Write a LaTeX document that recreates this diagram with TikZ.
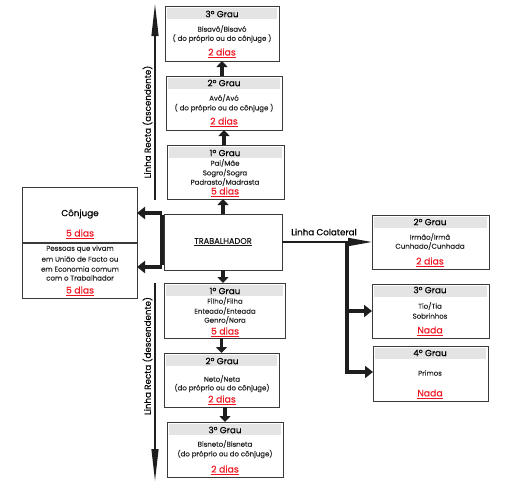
\documentclass[tikz,border=0pt]{standalone}
\usepackage{fontspec}
\setmainfont{Poppins}[FakeBold=0.35]
\usetikzlibrary{arrows.meta}
\definecolor{bord}{HTML}{3A3A3A}
\definecolor{hdr}{HTML}{E4E4E4}
\definecolor{redt}{HTML}{EE1520}
\definecolor{arr}{HTML}{1E1E1E}
\newcommand\mybox[5]{%
  \node[boxst, minimum width={(#4-#2)*1pt}, minimum height={(#5-#3)*1pt}] (#1) at ({(#2+#4)/2},{(#3+#5)/2}) {};}
\newcommand\myhdr[1]{%
  \fill[hdr] ([xshift=2pt,yshift=-2pt]#1.north west) rectangle ([xshift=-2pt,yshift=-13pt]#1.north east);}
\begin{document}
\begin{tikzpicture}[x=1pt,y=-1pt,
  boxst/.style={draw=bord, line width=0.9pt, inner sep=0pt, outer sep=0pt},
  hd/.style={font=\fontsize{8.8}{9}\selectfont, text=black, inner sep=0pt},
  tt/.style={font=\fontsize{7}{7}\selectfont, text=black!85, inner sep=0pt},
  rd/.style={font=\fontsize{9.3}{9}\selectfont, text=redt, inner sep=0pt},
  thk/.style={draw=arr, line width=3.6pt, -{Triangle[length=6pt,width=11pt]}},
  thkh/.style={draw=arr, line width=3.6pt, -{Triangle[length=8pt,width=12pt]}},
  lng/.style={draw=arr, line width=2.6pt, -{Triangle[length=34pt,width=6.5pt]}},
  lab/.style={font=\fontsize{8.7}{9}\selectfont, text=black, inner sep=0pt}]
\useasboundingbox (0,0) rectangle (508,493);
% boxes
\mybox{a3}{165}{6}{279}{61}
\mybox{a2}{166}{76}{282}{130}
\mybox{a1}{167}{145}{284}{199}
\mybox{t}{164}{214}{282}{270}
\mybox{c}{22}{187}{137}{242}
\mybox{u}{22}{243}{137}{298}
\mybox{d1}{164}{283}{285}{338}
\mybox{d2}{164}{353}{279}{407}
\mybox{d3}{167}{422}{283}{477}
\mybox{l2}{372}{215}{489}{269}
\mybox{l3}{372}{284}{489}{338}
\mybox{l4}{373}{346}{488}{401}
\myhdr{a3}\myhdr{a2}\myhdr{a1}\myhdr{d1}\myhdr{d2}\myhdr{d3}\myhdr{l2}\myhdr{l3}\myhdr{l4}
% ascending texts
\node[hd] (a3h) at (222,14) {3º Grau};
\node[tt] (a3a) at (222,29) {Bisavô/Bisavó};
\node[tt] (a3b) at (222,38.5) {( do próprio ou do cônjuge )};
\node[rd] (a3r) at (222,53) {\underline{2 dias}};
\node[hd] (a2h) at (224,83) {2º Grau};
\node[tt] (a2a) at (224,98) {Avô/Avó};
\node[tt] (a2b) at (224,108) {( do próprio ou do cônjuge )};
\node[rd] (a2r) at (224,122) {\underline{2 dias}};
\node[hd] (a1h) at (225,153) {1º Grau};
\node[tt] (a1a) at (225,163) {Pai/Mãe};
\node[tt] (a1b) at (225,173) {Sogro/Sogra};
\node[tt] (a1c) at (225,182) {Padrasto/Madrasta};
\node[rd] (a1r) at (225,192) {\underline{5 dias}};
% worker
\node[font=\fontsize{8.2}{9}\selectfont, text=black!90, inner sep=0pt] (tl) at (223,242) {\underline{TRABALHADOR}};
% spouse
\node[font=\fontsize{8.8}{9}\selectfont, inner sep=0pt] (ct) at (80,214) {Cônjuge};
\node[rd] (cr) at (80,234) {\underline{5 dias}};
\node[tt] (u1) at (80,249) {Pessoas que vivam};
\node[tt] (u2) at (80,259) {em União de Facto ou};
\node[tt] (u3) at (80,269) {em Economia comum};
\node[tt] (u4) at (80,278) {com o Trabalhador};
\node[rd] (ur) at (80,291) {\underline{5 dias}};
% descending
\node[hd] (d1h) at (225,291) {1º Grau};
\node[tt] (d1a) at (225,301) {Filho/Filha};
\node[tt] (d1b) at (225,311) {Enteado/Enteada};
\node[tt] (d1c) at (225,320) {Genro/Nora};
\node[rd] (d1r) at (225,332) {\underline{5 dias}};
\node[hd] (d2h) at (222,361) {2º Grau};
\node[tt] (d2a) at (222,379) {Neto/Neta};
\node[tt] (d2b) at (222,388) {(do próprio ou do cônjuge)};
\node[rd] (d2r) at (222,400) {\underline{2 dias}};
\node[hd] (d3h) at (225,430) {3º Grau};
\node[tt] (d3a) at (225,444) {Bisneto/Bisneta};
\node[tt] (d3b) at (225,454) {(do próprio ou do cônjuge)};
\node[rd] (d3r) at (225,470) {\underline{2 dias}};
% collateral
\node[hd] (l2h) at (430,222) {2º Grau};
\node[tt] (l2a) at (430,237) {Irmão/Irmã};
\node[tt] (l2b) at (430,246) {Cunhado/Cunhada};
\node[rd] (l2r) at (430,262) {\underline{2 dias}};
\node[hd] (l3h) at (430,290) {3º Grau};
\node[tt] (l3a) at (430,306) {Tio/Tia};
\node[tt] (l3b) at (430,316) {Sobrinhos};
\node[rd] (l3r) at (430,331) {\underline{Nada}};
\node[hd] (l4h) at (430,353) {4º Grau};
\node[tt] (l4a) at (430,373) {Primos};
\node[rd] (l4r) at (430,394) {\underline{Nada}};
% labels
\node[lab] (colab) at (324,232) {Linha Colateral};
\node[lab, rotate=90] (ascl) at (147.5,122) {Linha Recta (ascendente)};
\node[lab, rotate=90] (desl) at (147.5,356) {Linha Recta (descendente)};
% long arrows
\coordinate (asb) at (155,200);
\coordinate (ast) at (155,2);
\coordinate (dst) at (155,283);
\coordinate (dsb) at (155,483);
\draw[lng] (asb) -- (ast);
\draw[lng] (dst) -- (dsb);
% vertical arrows between boxes
\draw[thk] (t.north) ++(0,0) coordinate (tn) (tn) -- (tn |- a1.south);
\draw[thk] (a1.north -| a2.south) -- (a2.south);
\draw[thk] (a2.north -| a3.south) -- (a3.south);
\draw[thk] (t.south) -- (t.south |- d1.north);
\draw[thk] (d1.south -| d2.north) -- (d2.north);
\draw[thk] (d2.south -| d3.north) -- (d3.north);
% left arrows
\coordinate (lt) at (162,213);
\coordinate (lb) at (162,267);
\draw[draw=arr, line width=3.6pt] ([yshift=-1.8pt]lt) -- ([yshift=1.8pt]lb);
\draw[thkh] (lt) -- (lt -| c.east);
\draw[thkh] (lb) -- (lb -| u.east);
% collateral arrows
\coordinate (br) at (347,242);
\coordinate (brb) at (347,372);
\draw[draw=arr, line width=1.8pt, -{Triangle[length=24pt,width=8pt]}] (t.east) -- (l2.west);
\draw[draw=arr, line width=3.6pt] ([yshift=-1pt]br) -- ([yshift=1.8pt]brb);
\draw[thkh] (br |- l3.west) -- (l3.west);
\draw[thkh] ([xshift=-1.8pt]brb) -- (brb -| l4.west);
\end{tikzpicture}
\end{document}
